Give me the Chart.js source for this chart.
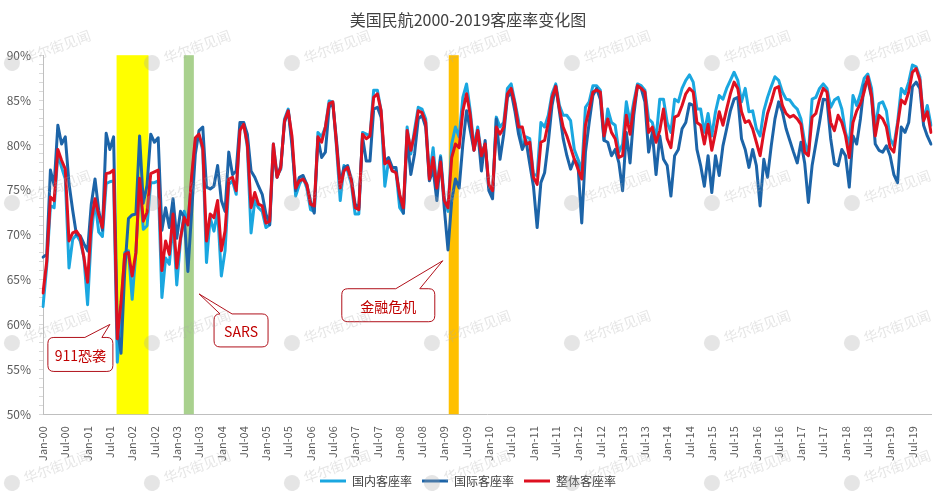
<!DOCTYPE html>
<html>
<head>
<meta charset="utf-8">
<script src="https://cdn.jsdelivr.net/npm/chart.js@4.4.1/dist/chart.umd.min.js"></script>
<style>
  html, body { margin: 0; padding: 0; background: #fff; }
</style>
</head>
<body>
<canvas id="chart" width="943" height="498"></canvas>
<script>
// 类别：每月一个点，2000年1月 - 2019年12月
const monthNames = ['Jan', 'Feb', 'Mar', 'Apr', 'May', 'Jun', 'Jul', 'Aug', 'Sep', 'Oct', 'Nov', 'Dec'];
const years = ['00', '01', '02', '03', '04', '05', '06', '07', '08', '09',
               '10', '11', '12', '13', '14', '15', '16', '17', '18', '19'];
const categories = [];
years.forEach(y => monthNames.forEach(m => categories.push(m + '-' + y)));

// 国内客座率 (%)
const domestic = [
  62, 66.5, 73.2, 73, 79, 77.5, 76.2, 66.3, 69.5, 70, 69.3, 67.5,
  62.2, 70, 73.8, 70.3, 69.8, 75.7, 75.9, 76, 55.8, 61.5, 68, 68.2,
  62.8, 68, 76, 70.6, 71, 75.8, 75.8, 76, 63, 67.4, 66.7, 71.5,
  64.4, 69.3, 72.6, 71.5, 76, 80.5, 81, 79.4, 66.9, 71.9, 70.4, 72.6,
  65.4, 68.2, 75.6, 76, 74.5, 81.8, 82.5, 79.7, 70.2, 73.8, 73, 72.6,
  70.8, 71.1, 80.1, 76.6, 77.3, 82.9, 84, 80.5, 74.3, 75.6, 76.4, 75.2,
  72.8, 72.6, 81.4, 80.9, 82, 84.9, 84.8, 79.7, 73.8, 77.7, 77.1, 75.6,
  72.3, 72.3, 81.4, 81.2, 81, 86.1, 86.1, 83.8, 75.4, 78.2, 77.1, 77.1,
  73, 72.4, 82, 79, 81.7, 84.2, 84, 82.9, 76.4, 79.7, 75.2, 78.8,
  74.1, 72.6, 80.1, 82, 80.9, 85.3, 86.8, 83.8, 79.7, 82, 79, 80.1,
  75.2, 74.7, 83.1, 82, 82.5, 86.3, 86.8, 84.8, 82.7, 79.7, 80.9, 80.7,
  76.7, 76.6, 82.5, 82, 83.3, 85.7, 86.8, 84.4, 83.3, 83.3, 82.7, 79.5,
  78.4, 77.1, 84.2, 84.8, 86.6, 86.6, 86.1, 80.5, 84, 82.5, 82.2, 79.2,
  80.1, 84.8, 82.5, 84.8, 86.8, 86.6, 86.1, 82.9, 82.5, 80.7, 85.1, 85.1,
  82.5, 81.4, 85.1, 84.8, 86.3, 87.2, 87.8, 87, 84, 84, 81.4, 83.5,
  81, 83.7, 85.5, 85.1, 86.3, 87.2, 88.1, 87.2, 84.8, 86.3, 83.7, 83.8,
  81.8, 81, 83.8, 85.3, 86.5, 87.6, 87.2, 85.9, 85.1, 85, 84.4, 84,
  82.9, 80.3, 79, 85.1, 85.3, 86.3, 86.8, 86.3, 84.2, 85, 85.3, 84,
  81.4, 79.9, 85.5, 84.4, 85.7, 87.4, 87.9, 86.3, 81.8, 84.6, 84.8, 83.8,
  80.7, 79.9, 82.5, 86.3, 85.7, 87, 88.9, 88.7, 87.6, 82.7, 84.4, 82.2
];

// 国际客座率 (%)
const international = [
  67.5, 67.8, 77.2, 75.5, 82.2, 80.1, 80.9, 75.7, 72.7, 70, 69.9, 69,
  68.2, 73.4, 76.2, 72.7, 70.5, 81.3, 79.5, 80.9, 59.5, 56.8, 66, 71.8,
  72.2, 72.3, 81, 73.5, 75.5, 81.2, 80.3, 80.8, 70.5, 73, 70.8, 74,
  69.6, 72.6, 72, 65.9, 72.5, 79, 81.6, 82, 75.3, 75.1, 75.4, 77.7,
  73.8, 72.6, 79.2, 76.7, 77.1, 82.5, 82.5, 81.2, 77.1, 76.4, 75.4, 74.5,
  72.3, 71.1, 79.4, 76.4, 77.7, 82.5, 83.8, 80, 74.9, 76.4, 76.6, 75.6,
  73.8, 72.4, 80.7, 78.6, 79.2, 84.2, 84.6, 80.5, 75.6, 77.5, 77.7, 76.2,
  73.4, 73, 80.9, 78.2, 78.2, 84, 84.2, 83.1, 78.2, 78.6, 77.5, 77.5,
  74.1, 72.4, 80.9, 76.7, 79, 82.9, 83.3, 82, 76, 77.3, 73.8, 78.6,
  73, 68.3, 73.8, 76.2, 75.2, 80.1, 83.8, 81.6, 79.4, 81.6, 77.1, 80.5,
  74.9, 74, 82.9, 78.4, 81.2, 85.3, 85.9, 83.8, 81.2, 79.5, 80.5, 77.9,
  75.4, 70.8, 75.8, 76.9, 80.3, 84.4, 86.6, 83.7, 80.7, 78.8, 77.3, 78.4,
  77.7, 71.3, 79.2, 82.5, 85.5, 86.3, 85.1, 80.5, 80.3, 78.8, 79.5, 78,
  74.9, 81.4, 78, 83.3, 86.6, 86.3, 84.8, 79.2, 81.4, 76.7, 81, 78.4,
  77.7, 74.3, 78.8, 79.5, 81.8, 82.5, 84.6, 84.4, 79.5, 77.7, 75.4, 78.8,
  74.7, 78.8, 76.6, 79.9, 81.8, 83.8, 85.1, 85.3, 80.7, 79.5, 77.5, 79.5,
  77.7, 73.2, 78.4, 76.4, 79.9, 82.9, 84.8, 83.7, 81.8, 80.5, 79.2, 78,
  80.3, 78, 73.6, 77.7, 80.1, 82.5, 85.1, 85, 80.7, 77.9, 77.7, 79.5,
  78.8, 75.3, 81, 80.1, 82.9, 86.6, 87.2, 85.3, 80.1, 79.4, 79.2, 79.9,
  78.8, 76.7, 75.8, 82, 81.4, 82.5, 86.5, 87, 86.3, 82.2, 81, 80.1
];

// 整体客座率 (%)
const overall = [
  63.5, 67, 74.2, 73.8, 79.5, 78.3, 77.3, 69.3, 70.2, 70.4, 69.8, 67.5,
  64.7, 71.5, 74, 72.2, 70.8, 76.8, 76.9, 77.2, 58.4, 62.5, 67.8, 68,
  65.4, 68, 76.3, 71.5, 72.5, 76.8, 77, 77.2, 66, 69.3, 67.8, 72.3,
  66.3, 69.6, 71.9, 71.1, 76.5, 80.8, 81.2, 79.7, 69.3, 72.3, 71.9, 73.8,
  68.2, 70.4, 76.2, 76.4, 74.9, 81.6, 82.3, 80.1, 73, 74.7, 73.4, 73.2,
  71.3, 71.5, 80.1, 76.4, 77.5, 82.7, 83.8, 81, 75.2, 76, 76.2, 75.6,
  73.4, 73.2, 80.9, 80.3, 82, 84.6, 84.8, 80.1, 75.2, 77.1, 77.5, 76,
  73, 72.8, 81.2, 80.7, 81, 85.3, 85.7, 83.8, 77.9, 78.2, 77.1, 76.9,
  74.5, 73, 81.6, 79.4, 81.2, 83.8, 83.6, 82.5, 76.2, 78.6, 75.2, 78.1,
  73.8, 73, 78.6, 80.1, 79.7, 83.8, 85.7, 83.3, 79.4, 81.6, 78.8, 80.1,
  75.6, 74.9, 82, 81.2, 82, 85.7, 86.3, 84.6, 82, 82, 80.1, 80.3,
  76.4, 75.6, 80.3, 80.5, 82.5, 85.3, 86.5, 84, 82, 81, 79.7, 78.4,
  77.3, 76.2, 82.2, 84, 85.9, 86.1, 85.9, 81, 82.9, 81.4, 80.7, 78.6,
  78.8, 83.3, 81.2, 84.2, 86.6, 86.3, 85.9, 81.4, 82, 80.3, 81.6, 84,
  80.7, 79.7, 83.1, 83.3, 84.4, 85.7, 86.3, 85.9, 82.5, 82.2, 80.1, 82.3,
  79.4, 81.4, 83.7, 82.2, 84, 85.7, 87, 86.3, 83.7, 82.5, 82.7, 81.8,
  80.3, 78.8, 81.4, 83.5, 84.8, 86.3, 86.5, 84.4, 83.5, 83.1, 83.3, 82.9,
  82.3, 79.2, 78.8, 83.1, 83.5, 85.1, 86.3, 85.9, 82.5, 81.6, 83.3, 82.5,
  81, 78.6, 82.5, 83.8, 84.6, 85.9, 87.6, 85.5, 81, 83.3, 82.9, 82,
  79.7, 79.2, 82.2, 85, 84.6, 85.9, 88.1, 88.5, 87.2, 82.7, 83.7, 81.4
];

const seriesNames = ['国内客座率', '国际客座率', '整体客座率'];
const seriesColors = ['#1AA7E0', '#1C64A8', '#DE1020'];

// y轴刻度标签
const yTickLabels = ['50%', '55%', '60%', '65%', '70%', '75%', '80%', '85%', '90%'];

// 事件区间（按月份序号）
const bandRanges = [[19.8, 28.4], [37.9, 40.6], [109.2, 111.9]];
const bandColors = ['#FFFF00', '#A9D18E', '#FFC000'];

// 标注：文字和指向的点（月份序号, 客座率）
const calloutTexts = ['911恐袭', 'SARS', '金融危机'];
const calloutPoints = [[18, 60], [42, 63.4], [107.6, 67.1]];

const cjkFont = "'Noto Sans CJK SC', 'Noto Sans', sans-serif";

// 背景色带
const bandsPlugin = {
  id: 'bands',
  beforeDatasetsDraw(chart) {
    const { ctx, chartArea, scales } = chart;
    ctx.save();
    bandRanges.forEach((r, i) => {
      const x1 = scales.x.getPixelForValue(r[0]);
      const x2 = scales.x.getPixelForValue(r[1]);
      ctx.fillStyle = bandColors[i];
      ctx.fillRect(x1, chartArea.top, x2 - x1, chartArea.bottom - chartArea.top);
    });
    ctx.restore();
  }
};

// 标注框（圆角矩形 + 指针）
const boxLayout = [
  { dx: -62, dy: 13, w: 65, h: 34, b1: -25, b2: -8 },
  { dx: 15, dy: 20, w: 54, h: 33, b1: 21, b2: 33 },
  { dx: -101, dy: 28, w: 93, h: 33, b1: -47, b2: -23 }
];

const calloutPlugin = {
  id: 'callouts',
  afterDatasetsDraw(chart) {
    const { ctx, scales } = chart;
    ctx.save();
    calloutPoints.forEach((p, i) => {
      const ax = scales.x.getPixelForValue(p[0]);
      const ay = scales.y.getPixelForValue(p[1]);
      const L = boxLayout[i];
      const left = ax + L.dx, top = ay + L.dy, right = left + L.w, bottom = top + L.h;
      const r = 6;
      ctx.beginPath();
      ctx.moveTo(left + r, top);
      ctx.lineTo(ax + L.b1, top);
      ctx.lineTo(ax, ay);
      ctx.lineTo(ax + L.b2, top);
      ctx.lineTo(right - r, top);
      ctx.quadraticCurveTo(right, top, right, top + r);
      ctx.lineTo(right, bottom - r);
      ctx.quadraticCurveTo(right, bottom, right - r, bottom);
      ctx.lineTo(left + r, bottom);
      ctx.quadraticCurveTo(left, bottom, left, bottom - r);
      ctx.lineTo(left, top + r);
      ctx.quadraticCurveTo(left, top, left + r, top);
      ctx.closePath();
      ctx.fillStyle = '#ffffff';
      ctx.fill();
      ctx.strokeStyle = '#B0101A';
      ctx.lineWidth = 1;
      ctx.stroke();
      ctx.fillStyle = '#C00000';
      ctx.font = '14px ' + cjkFont;
      ctx.textAlign = 'center';
      ctx.textBaseline = 'middle';
      ctx.fillText(calloutTexts[i], (left + right) / 2, (top + bottom) / 2 + 1);
    });
    ctx.restore();
  }
};

// 水印
const watermarkPlugin = {
  id: 'watermark',
  afterDraw(chart) {
    const { ctx } = chart;
    const xs = [12, 152, 292, 432, 572, 712, 852];
    const ys = [63, 203, 343, 483];
    ctx.save();
    ys.forEach(y => xs.forEach(x => {
      ctx.save();
      ctx.translate(x, y);
      ctx.rotate(-20 * Math.PI / 180);
      ctx.fillStyle = 'rgba(170,170,170,0.3)';
      ctx.beginPath();
      ctx.arc(0, 0, 8, 0, Math.PI * 2);
      ctx.fill();
      ctx.font = '14px ' + cjkFont;
      ctx.textBaseline = 'middle';
      ctx.fillText('华尔街见闻', 13, 0);
      ctx.restore();
    }));
    ctx.restore();
  }
};

function makeLine(data, i, order) {
  return {
    label: seriesNames[i],
    data: data,
    borderColor: seriesColors[i],
    backgroundColor: seriesColors[i],
    borderWidth: 3,
    pointRadius: 0,
    tension: 0,
    borderJoinStyle: 'round',
    borderCapStyle: 'round',
    order: order
  };
}

new Chart(document.getElementById('chart'), {
  type: 'line',
  data: {
    labels: categories,
    datasets: [
      makeLine(domestic, 0, 3),
      makeLine(international, 1, 2),
      makeLine(overall, 2, 1)
    ]
  },
  options: {
    responsive: false,
    animation: false,
    devicePixelRatio: 1,
    layout: { padding: { left: 5, right: 12, top: 0, bottom: 1 } },
    plugins: {
      title: {
        display: true,
        text: '美国民航2000-2019客座率变化图',
        color: '#404040',
        font: { family: cjkFont, size: 16, weight: 'normal' },
        padding: { top: 10, bottom: 26 }
      },
      legend: {
        position: 'bottom',
        labels: {
          usePointStyle: true,
          pointStyle: 'line',
          pointStyleWidth: 26,
          boxHeight: 12,
          color: '#404040',
          font: { family: cjkFont, size: 12 },
          padding: 10,
          sort: (a, b) => a.datasetIndex - b.datasetIndex
        }
      },
      tooltip: { enabled: false }
    },
    scales: {
      x: {
        offset: false,
        afterFit: (s) => { s.paddingRight = 0; s.paddingLeft = 0; },
        grid: { display: false },
        border: { display: true, color: '#BFBFBF', width: 1 },
        ticks: {
          autoSkip: false,
          minRotation: 90,
          maxRotation: 90,
          padding: 4,
          color: '#595959',
          font: { family: cjkFont, size: 11 },
          callback: (v, i) => (i % 6 === 0 ? categories[i] : '')
        }
      },
      y: {
        min: 50,
        max: 90,
        afterFit: (s) => { s.width = 38; },
        grid: { display: true, drawOnChartArea: false, tickLength: 4, color: '#D9D9D9' },
        border: { display: true, color: '#BFBFBF', width: 1 },
        ticks: {
          stepSize: 1,
          autoSkip: false,
          padding: 8,
          color: '#595959',
          font: { family: cjkFont, size: 12 },
          callback: (v) => (v % 5 === 0 ? yTickLabels[(v - 50) / 5] : '')
        }
      }
    }
  },
  plugins: [bandsPlugin, calloutPlugin, watermarkPlugin]
});
</script>
</body>
</html>
